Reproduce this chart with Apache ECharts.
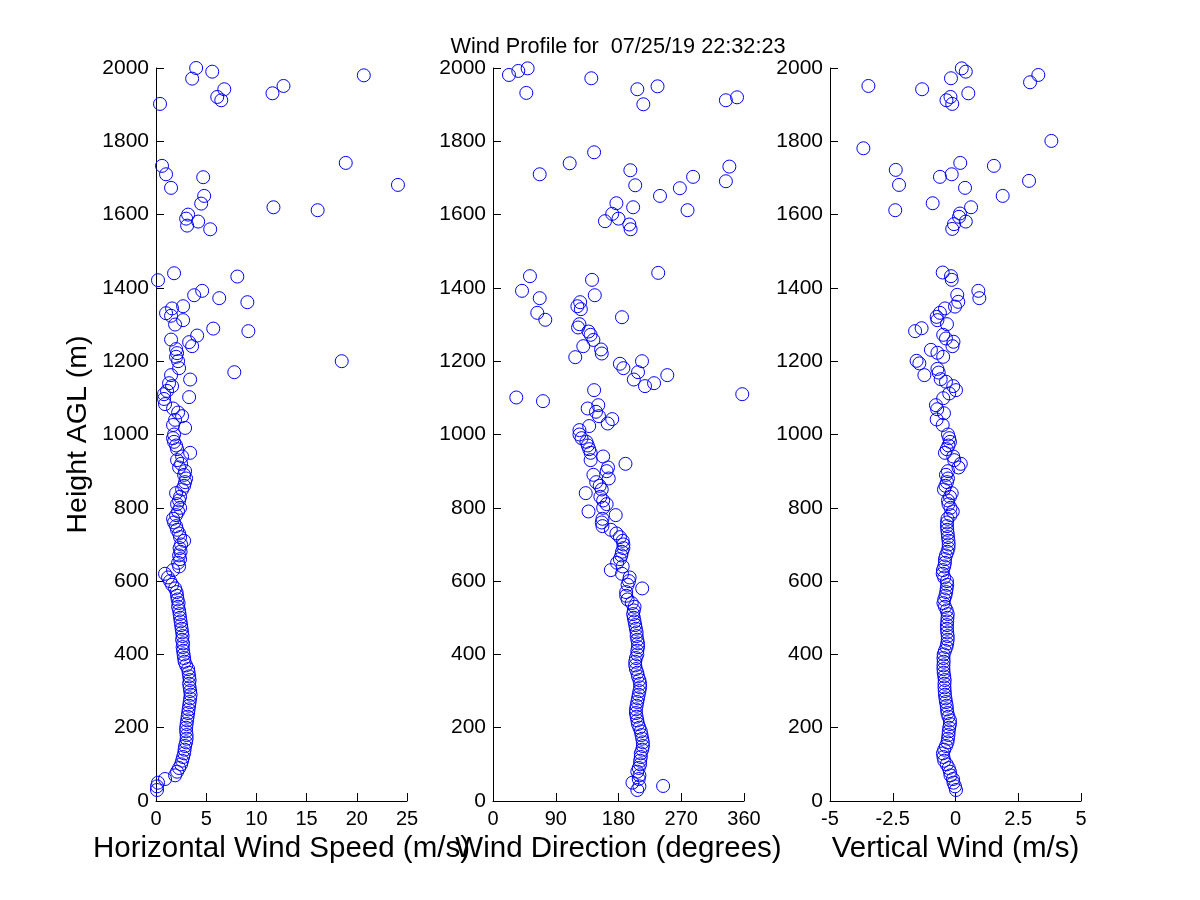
<!DOCTYPE html>
<html>
<head>
<meta charset="utf-8">
<script src="https://cdn.jsdelivr.net/npm/echarts@6/dist/echarts.min.js"></script>
<style>
html,body{margin:0;padding:0;background:#fff;}
#chart{width:1200px;height:900px;}
</style>
</head>
<body>
<div id="chart"></div>
<script>
// Shared heights of the dense lower profile (m)
var LOW_H = [30,40,50,60,70,80,90,100,110,120,
130,140,150,160,170,180,190,200,210,220,
230,240,250,260,270,280,290,300,310,320,
330,340,350,360,370,380,390,400,410,420,
430,440,450,460,470,480,490,500,510,520,
530,540,550,560,570,580,590,600,610,620,
630,640,650,660,670,680,690,700,710,720,
730,740,750,760,770,780,790,800,810,820,
830,840,850,860,870,880,890,900,910,920,
930,940,950,960,970,980,990,1000];

// Horizontal wind speed (m/s) at LOW_H
var SPEED_LOW = [0.1,0.1,0.2,0.9,1.9,2.1,2.3,2.5,2.6,2.7,
2.8,2.85,2.9,3.0,3.05,3.05,3.0,3.0,3.05,3.1,
3.15,3.2,3.25,3.3,3.35,3.4,3.45,3.4,3.35,3.3,
3.35,3.3,3.25,3.2,3.0,2.85,2.8,2.75,2.7,2.65,
2.7,2.6,2.65,2.6,2.55,2.5,2.45,2.4,2.35,2.3,
2.2,2.25,2.15,2.1,2.05,1.9,1.6,1.4,1.2,0.9,
1.7,2.3,2.2,2.4,2.3,2.45,2.35,2.5,2.8,2.4,
2.3,2.1,2.0,1.8,1.7,2.0,2.2,2.4,2.1,2.3,
2.4,2.0,2.6,2.8,2.9,3.0,2.8,2.9,2.3,2.5,
2.1,2.6,3.4,2.1,2.0,1.8,1.7,1.8];

// Wind direction (degrees) at LOW_H
var DIR_LOW = [207,210,200,209,210,207,209,211,211,212,
212,214,215,215,214,213,212,210,208,207,
206,205,205,206,207,208,209,210,211,211,
210,208,207,205,204,204,205,207,207,208,
208,207,206,206,205,204,203,202,201,202,
203,199,193,191,191,214,193,195,196,185,
169,186,178,182,184,185,187,187,186,182,
177,169,157,156,157,176,137,158,163,158,
154,133,156,153,148,166,144,163,165,190,
140,158,140,138,136,134,127,124];

// Vertical wind (m/s) at LOW_H
var VERT_LOW = [0.02,-0.02,-0.08,-0.1,-0.2,-0.22,-0.27,-0.35,-0.45,-0.48,
-0.5,-0.45,-0.38,-0.32,-0.3,-0.28,-0.27,-0.25,-0.22,-0.22,
-0.28,-0.32,-0.34,-0.35,-0.38,-0.4,-0.42,-0.43,-0.44,-0.44,
-0.43,-0.45,-0.47,-0.48,-0.48,-0.47,-0.48,-0.47,-0.42,-0.36,
-0.33,-0.31,-0.31,-0.33,-0.34,-0.34,-0.33,-0.32,-0.31,-0.35,
-0.42,-0.48,-0.45,-0.4,-0.37,-0.35,-0.33,-0.34,-0.45,-0.51,
-0.5,-0.45,-0.42,-0.42,-0.38,-0.32,-0.28,-0.27,-0.28,-0.3,
-0.31,-0.33,-0.34,-0.34,-0.32,-0.2,-0.11,-0.2,-0.28,-0.3,
-0.22,-0.15,-0.46,-0.4,-0.34,-0.3,-0.38,-0.3,0.12,0.21,
-0.05,-0.09,-0.42,-0.35,-0.28,-0.22,-0.25,-0.3];

// Scattered points [value, height]
var SPEED_SCATTER = [[4.0,2000],[5.6,1990],[3.6,1971],[20.7,1980],[6.8,1942],[6.1,1921],[6.5,1912],[12.7,1951],[11.6,1931],[0.4,1902],
[0.6,1733],[1.0,1710],[1.5,1673],[18.9,1741],[24.1,1681],[4.7,1702],[4.8,1651],[4.5,1630],[3.2,1600],[3.0,1589],
[3.1,1570],[4.2,1581],[5.4,1560],[11.7,1620],[16.1,1612],[0.2,1421],[1.8,1440],[8.1,1431],[4.6,1392],[3.8,1380],
[6.3,1372],[9.1,1361],[2.7,1350],[1.6,1344],[1.0,1331],[1.5,1324],[2.7,1312],[1.9,1300],[5.7,1289],[9.2,1282],
[4.1,1270],[3.3,1252],[3.6,1241],[1.5,1259],[2.0,1233],[2.1,1222],[2.0,1212],[2.2,1200],[2.3,1181],[18.5,1200],
[7.8,1170],[1.5,1162],[3.4,1150],[1.3,1140],[1.6,1132],[1.1,1119],[0.8,1110],[3.3,1102],[0.9,1083],[0.8,1097],
[1.7,1071],[2.6,1050],[1.9,1040],[1.7,1026],[2.9,1018],[2.2,1060]];

var DIR_SCATTER = [[22.9,1981],[36.3,1992],[49.7,1999],[47.8,1932],[141,1972],[207,1942],[236,1950],[215.6,1901],[334,1912],[350,1920],
[145,1770],[110,1740],[67,1710],[197,1721],[339,1731],[204,1680],[287,1703],[334,1691],[268,1672],[239.5,1651],
[177,1631],[201,1620],[279,1612],[171,1602],[180,1589],[160.6,1582],[195.5,1573],[197.4,1560],[53,1432],[41.6,1392],
[142,1422],[237,1441],[146,1380],[67,1372],[63.5,1332],[75,1313],[125,1361],[121,1350],[126,1342],[185,1320],
[124,1301],[122,1292],[137,1281],[140,1272],[144,1258],[129.5,1241],[118,1211],[155,1232],[156,1221],[182,1193],
[187,1181],[213.7,1200],[208,1170],[202,1150],[218,1132],[231,1140],[250,1162],[357.5,1110],[33.4,1101],[71.7,1091],
[145,1121],[135.8,1071],[151,1080],[147.7,1062],[152,1050],[171,1042],[164.5,1030],[138,1023],[124,1012],[244,41]];

var VERT_SCATTER = [[-3.47,1951],[-1.33,1942],[-0.18,1972],[0.25,1999],[0.41,1990],[0.51,1931],[-0.36,1912],[-0.2,1921],[-0.13,1902],[2.97,1961],
[3.3,1981],[-3.67,1781],[3.82,1801],[-2.38,1722],[-2.25,1681],[-2.4,1612],[-0.91,1631],[-0.62,1703],[-0.15,1710],[0.19,1741],
[1.53,1733],[2.93,1692],[1.88,1651],[0.38,1673],[0.62,1620],[0.18,1603],[0.14,1594],[0.41,1581],[-0.06,1574],[-0.13,1561],
[-0.51,1442],[-0.18,1432],[-0.15,1422],[0.91,1392],[0.95,1372],[0.07,1381],[0.11,1362],[-0.02,1349],[-0.42,1344],[-0.62,1332],
[-0.75,1321],[-0.72,1312],[-0.34,1301],[-1.61,1282],[-1.35,1290],[-0.49,1272],[-0.38,1262],[-0.08,1253],[-0.12,1241],[-0.98,1231],
[-0.72,1223],[-0.49,1212],[-1.55,1201],[-1.44,1194],[-1.24,1162],[-0.72,1179],[-0.67,1169],[-0.59,1151],[-0.38,1144],[-0.09,1132],
[0.02,1121],[-0.25,1112],[-0.49,1099],[-0.78,1080],[-0.73,1069],[-0.46,1058],[-0.75,1041],[-0.51,1026]];

var TITLE = 'Wind Profile for  07/25/19 22:32:23';
var X_NAMES = ['Horizontal Wind Speed (m/s)', 'Wind Direction (degrees)', 'Vertical Wind (m/s)'];
var Y_NAME = 'Height AGL (m)';
var X_RANGES = [[0,25,5],[0,360,90],[-5,5,2.5]];
var Y_RANGE = [0,2000,200];

function pairs(vals){ return LOW_H.map(function(h,i){ return [vals[i], h]; }); }
var SERIES_DATA = [
  pairs(SPEED_LOW).concat(SPEED_SCATTER),
  pairs(DIR_LOW).concat(DIR_SCATTER),
  pairs(VERT_LOW).concat(VERT_SCATTER)
];

var FONT = 'Liberation Sans, Arial, sans-serif';
var LEFTS = [156, 493, 830];
function plain(v){ return String(v); }

var grids = [], xAxes = [], yAxes = [], series = [];
for (var i = 0; i < 3; i++) {
  grids.push({left: LEFTS[i], width: 251, top: 68, height: 733, containLabel: false});
  xAxes.push({
    type: 'value', gridIndex: i,
    min: X_RANGES[i][0], max: X_RANGES[i][1], interval: X_RANGES[i][2],
    name: X_NAMES[i], nameLocation: 'middle', nameGap: 30,
    nameTextStyle: {fontFamily: FONT, fontSize: 29.5, color: '#000'},
    axisLine: {show: true, onZero: false, lineStyle: {color: '#000', width: 1}},
    axisTick: {show: true, inside: true, length: 8, lineStyle: {color: '#000'}},
    axisLabel: {fontFamily: FONT, fontSize: 20, color: '#000', margin: 8, showMinLabel: true, showMaxLabel: true, formatter: plain},
    splitLine: {show: false}
  });
  yAxes.push({
    type: 'value', gridIndex: i,
    min: Y_RANGE[0], max: Y_RANGE[1], interval: Y_RANGE[2],
    name: i === 0 ? Y_NAME : '', nameLocation: 'middle', nameGap: 63,
    nameTextStyle: {fontFamily: FONT, fontSize: 28.5, color: '#000'},
    axisLine: {show: true, onZero: false, lineStyle: {color: '#000', width: 1}},
    axisTick: {show: true, inside: true, length: 8, lineStyle: {color: '#000'}},
    axisLabel: {fontFamily: FONT, fontSize: 21, color: '#000', margin: 7, showMinLabel: true, showMaxLabel: true, formatter: plain},
    splitLine: {show: false}
  });
  series.push({
    type: 'scatter', xAxisIndex: i, yAxisIndex: i,
    data: SERIES_DATA[i],
    symbol: 'circle', symbolSize: 13,
    itemStyle: {color: 'rgba(0,0,0,0)', borderColor: '#0000FF', borderWidth: 1, opacity: 1},
    emphasis: {disabled: true},
    animation: false, silent: true, clip: false
  });
}

var chart = echarts.init(document.getElementById('chart'), null, {renderer: 'canvas'});
chart.setOption({
  backgroundColor: '#fff',
  animation: false,
  title: {
    text: TITLE, left: 613, top: 31, textAlign: 'center',
    textStyle: {fontFamily: FONT, fontSize: 21.7, fontWeight: 'normal', color: '#000'}
  },
  grid: grids, xAxis: xAxes, yAxis: yAxes, series: series
});
</script>
</body>
</html>
